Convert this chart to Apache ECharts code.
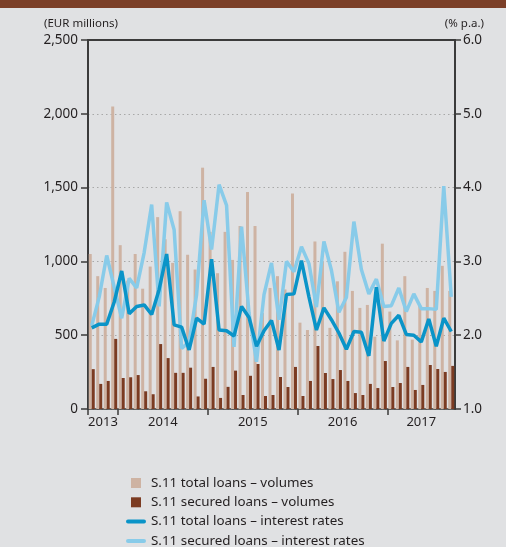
<!DOCTYPE html>
<html>
<head>
<meta charset="utf-8">
<script src="https://cdn.jsdelivr.net/npm/echarts@6/dist/echarts.min.js"></script>
<style>
  html, body { margin: 0; padding: 0; background: #e0e1e3; }
  #chart { width: 506px; height: 547px; }
</style>
</head>
<body>
<div id="chart"></div>
<script>
// Monthly observations, Sep 2013 – Sep 2017
const months = [
  '2013-09','2013-10','2013-11','2013-12',
  '2014-01','2014-02','2014-03','2014-04','2014-05','2014-06','2014-07','2014-08','2014-09','2014-10','2014-11','2014-12',
  '2015-01','2015-02','2015-03','2015-04','2015-05','2015-06','2015-07','2015-08','2015-09','2015-10','2015-11','2015-12',
  '2016-01','2016-02','2016-03','2016-04','2016-05','2016-06','2016-07','2016-08','2016-09','2016-10','2016-11','2016-12',
  '2017-01','2017-02','2017-03','2017-04','2017-05','2017-06','2017-07','2017-08','2017-09'
];

// S.11 total loans – new business volumes (EUR millions)
const totalVolumes = [
  1050, 900, 820, 2050,
  1110, 870, 1050, 815, 965, 1300, 1150, 990, 1340, 1045, 945, 1635,
  1200, 920, 1200, 1010, 1240, 1470, 1240, 650, 820, 900, 810, 1460,
  585, 535, 1135, 1000, 550, 865, 1065, 800, 685, 705, 490, 1120,
  660, 465, 900, 470, 700, 820, 800, 970, 800
];

// S.11 secured loans – new business volumes (EUR millions)
const securedVolumes = [
  270, 170, 190, 475,
  210, 215, 230, 120, 100, 440, 345, 245, 245, 280, 85, 205,
  285, 75, 150, 260, 95, 225, 305, 88, 95, 217, 149, 285,
  88, 190, 427, 244, 203, 264, 190, 108, 95, 170, 142, 325,
  149, 176, 285, 129, 163, 298, 271, 251, 292
];

// S.11 total loans – interest rates (% p.a.)
const totalRates = [
  2.10, 2.15, 2.15, 2.45,
  2.87, 2.29, 2.39, 2.41, 2.28, 2.62, 3.10, 2.14, 2.11, 1.80, 2.23, 2.15,
  3.03, 2.07, 2.06, 1.99, 2.39, 2.24, 1.85, 2.06, 2.20, 1.80, 2.55, 2.56,
  3.01, 2.52, 2.07, 2.37, 2.21, 2.03, 1.81, 2.05, 2.04, 1.72, 2.65, 1.92,
  2.16, 2.27, 2.01, 2.00, 1.91, 2.22, 1.85, 2.23, 2.05
];

// S.11 secured loans – interest rates (% p.a.)
const securedRates = [
  2.13, 2.52, 3.08, 2.65,
  2.23, 2.77, 2.64, 3.12, 3.77, 2.39, 3.80, 3.43, 1.82, 1.91, 2.55, 3.83,
  3.16, 4.04, 3.76, 1.84, 3.47, 2.30, 1.64, 2.55, 2.98, 2.21, 3.00, 2.86,
  3.20, 2.97, 2.38, 3.27, 2.88, 2.31, 2.51, 3.54, 2.89, 2.56, 2.76, 2.39,
  2.40, 2.64, 2.32, 2.56, 2.36, 2.36, 2.35, 4.02, 2.52
];

const volumeTicks = ['0', '500', '1,000', '1,500', '2,000', '2,500'];
const rateTicks = ['1.0', '2.0', '3.0', '4.0', '5.0', '6.0'];

const seriesNames = [
  'S.11 total loans – volumes',
  'S.11 secured loans – volumes',
  'S.11 total loans – interest rates',
  'S.11 secured loans – interest rates'
];

// Year spans on the month axis: boundaries get a tick, the span middle gets the label
const years = [];
months.forEach((m, i) => {
  const y = m.slice(0, 4);
  const last = years[years.length - 1];
  if (!last || last.year !== y) years.push({ year: y, first: i, last: i });
  else last.last = i;
});
const yearTicks = years.map(y => y.first);
const yearLabelPos = years.map(y => (y.first + y.last + 1) / 2);

const FONT = 'Noto Sans';
const INK = '#231f20';
const AXIS = '#3b3b3b';

const chart = echarts.init(document.getElementById('chart'), null, { renderer: 'canvas' });

chart.setOption({
  animation: false,
  backgroundColor: '#e0e1e3',
  textStyle: { fontFamily: FONT },
  graphic: [
    { type: 'rect', left: 0, top: 0, shape: { width: 506, height: 8 }, style: { fill: '#7b3f28' } },
    { type: 'text', left: 44, top: 18, style: { text: '(EUR millions)', font: '11.5px "Noto Sans"', fill: INK } },
    { type: 'text', right: 22, top: 18, style: { text: '(% p.a.)', font: '11.5px "Noto Sans"', fill: INK } }
  ],
  grid: { left: 88, right: 51, top: 40, bottom: 138 },
  legend: {
    orient: 'vertical',
    left: 126,
    top: 476,
    height: 90,
    padding: 0,
    itemWidth: 20,
    itemHeight: 10,
    itemGap: 5.3,
    symbolKeepAspect: true,
    textStyle: { fontFamily: FONT, fontSize: 13.4, color: INK, lineHeight: 14 },
    data: [
      { name: seriesNames[0], icon: 'path://M0,0H10V10H0Z' },
      { name: seriesNames[1], icon: 'path://M0,0H10V10H0Z' },
      { name: seriesNames[2], icon: 'path://M2,0H18A2,2 0 0 1 18,4H2A2,2 0 0 1 2,0Z' },
      { name: seriesNames[3], icon: 'path://M2,0H18A2,2 0 0 1 18,4H2A2,2 0 0 1 2,0Z' }
    ]
  },
  xAxis: [
    {
      type: 'category',
      data: months,
      boundaryGap: true,
      axisLine: { lineStyle: { color: AXIS, width: 1.5 } },
      axisTick: { show: false },
      axisLabel: { show: false },
      splitLine: { show: false }
    },
    {
      type: 'value',
      min: 0,
      max: months.length,
      position: 'bottom',
      axisLine: { show: false },
      splitLine: { show: false },
      axisTick: {
        show: true,
        customValues: yearTicks,
        length: 6,
        lineStyle: { color: AXIS, width: 1.5 }
      },
      axisLabel: {
        customValues: yearLabelPos,
        margin: 7,
        fontFamily: FONT,
        fontSize: 13,
        color: INK,
        formatter: v => {
          const k = yearLabelPos.indexOf(v);
          return k >= 0 ? years[k].year : '';
        }
      }
    },
    {
      type: 'category',
      data: months,
      position: 'top',
      axisLine: { lineStyle: { color: AXIS, width: 2 } },
      axisTick: { show: false },
      axisLabel: { show: false },
      splitLine: { show: false }
    }
  ],
  yAxis: [
    {
      type: 'value',
      min: 0,
      max: 2500,
      interval: 500,
      position: 'left',
      axisLine: { show: true, lineStyle: { color: AXIS, width: 2 } },
      axisTick: { show: true, length: 7, lineStyle: { color: AXIS, width: 1.5 } },
      axisLabel: {
        margin: 10,
        fontFamily: FONT,
        fontSize: 13.5,
        color: INK,
        formatter: v => volumeTicks[Math.round(v / 500)]
      },
      splitLine: { show: true, lineStyle: { color: '#a8a8a8', width: 1, type: [1.5, 3] } }
    },
    {
      type: 'value',
      min: 1,
      max: 6,
      interval: 1,
      position: 'right',
      axisLine: { show: true, lineStyle: { color: AXIS, width: 2 } },
      axisTick: { show: true, length: 6, lineStyle: { color: AXIS, width: 1.5 } },
      axisLabel: {
        margin: 8,
        fontFamily: FONT,
        fontSize: 13.5,
        color: INK,
        formatter: v => rateTicks[Math.round(v - 1)]
      },
      splitLine: { show: false }
    }
  ],
  series: [
    {
      name: seriesNames[0],
      type: 'bar',
      xAxisIndex: 0,
      yAxisIndex: 0,
      data: totalVolumes,
      barWidth: 3,
      barGap: '0%',
      itemStyle: { color: '#ceb3a3' }
    },
    {
      name: seriesNames[1],
      type: 'bar',
      xAxisIndex: 0,
      yAxisIndex: 0,
      data: securedVolumes,
      barWidth: 3,
      barGap: '0%',
      itemStyle: { color: '#7b3b22' }
    },
    {
      name: seriesNames[3],
      type: 'line',
      xAxisIndex: 0,
      yAxisIndex: 1,
      data: securedRates,
      showSymbol: false,
      symbol: 'none',
      z: 3,
      itemStyle: { color: '#88cbe9' },
      lineStyle: { color: '#88cbe9', width: 3.5 }
    },
    {
      name: seriesNames[2],
      type: 'line',
      xAxisIndex: 0,
      yAxisIndex: 1,
      data: totalRates,
      showSymbol: false,
      symbol: 'none',
      z: 4,
      itemStyle: { color: '#0a94c8' },
      lineStyle: { color: '#0a94c8', width: 3.5 }
    }
  ]
});
</script>
</body>
</html>
